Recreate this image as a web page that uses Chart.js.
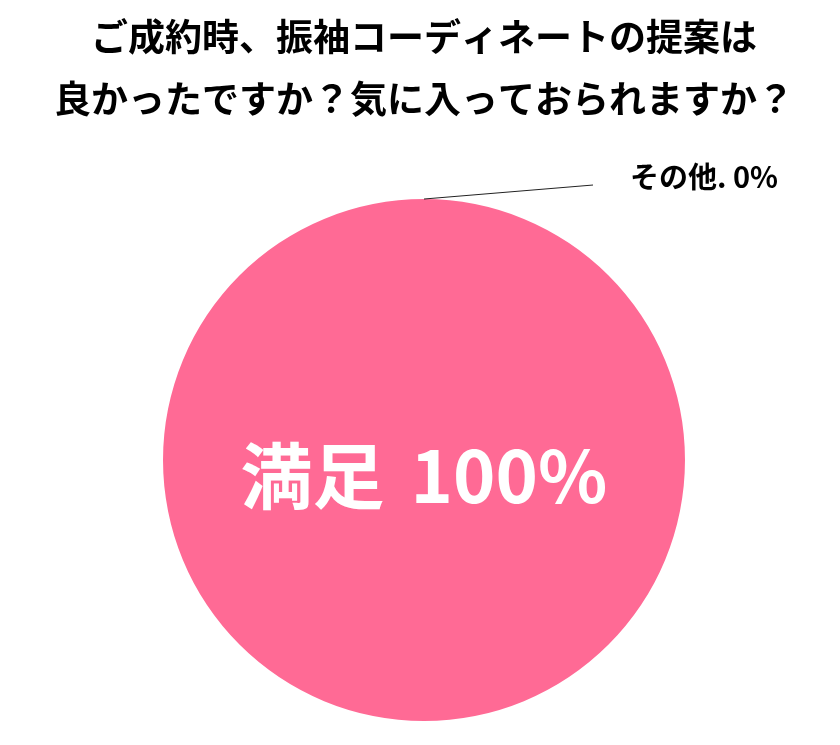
<!DOCTYPE html>
<html lang="ja">
<head>
<meta charset="utf-8">
<script src="https://cdn.jsdelivr.net/npm/chart.js@4"></script>
<style>
    html, body { margin: 0; padding: 0; background: #fff; }
    #wrap { width: 840px; height: 745px; position: relative; }
</style>
</head>
<body>
<div id="wrap"><canvas id="pieChart"></canvas></div>
<script>
const titleLines = ["ご成約時、振袖コーディネートの提案は", "良かったですか？気に入っておられますか？"];
const categories = ["満足", "その他"];
const values = [100, 0];
const colors = ["#FF6A95", "#A6A6A6"];

const jpFont = '"Noto Sans CJK JP", "Noto Sans", sans-serif';

// labels drawn on / beside the slices
const sliceLabels = {
    id: "sliceLabels",
    afterDatasetsDraw(chart) {
        const ctx = chart.ctx;
        const arcs = chart.getDatasetMeta(0).data;
        ctx.save();

        // main slice: label in the middle (name + value with a wider gap)
        const a0 = arcs[0];
        ctx.fillStyle = "#fff";
        ctx.font = "bold 72px " + jpFont;
        ctx.textAlign = "left";
        ctx.textBaseline = "alphabetic";
        const name = categories[0];
        const pct = values[0] + "%";
        const gap = 26;
        const w1 = ctx.measureText(name).width;
        const w2 = ctx.measureText(pct).width;
        const x0 = a0.x - (w1 + gap + w2) / 2;
        ctx.fillText(name, x0, a0.y + 43);
        ctx.fillText(pct, x0 + w1 + gap, a0.y + 43);

        // small slice: leader line and label outside
        const a1 = arcs[1];
        const mid = (a1.startAngle + a1.endAngle) / 2;
        const sx = a1.x + Math.cos(mid) * a1.outerRadius;
        const sy = a1.y + Math.sin(mid) * a1.outerRadius;
        ctx.strokeStyle = "#222";
        ctx.lineWidth = 1;
        ctx.beginPath();
        ctx.moveTo(sx, sy);
        ctx.lineTo(sx + 169, sy - 14);
        ctx.stroke();

        ctx.fillStyle = "#000";
        ctx.font = "bold 29px " + jpFont;
        ctx.textAlign = "left";
        ctx.fillText(categories[1] + ". " + values[1] + "%", sx + 206, sy - 11);
        ctx.restore();
    }
};

new Chart(document.getElementById("pieChart"), {
    type: "pie",
    data: {
        labels: categories,
        datasets: [{
            data: values,
            backgroundColor: colors,
            borderWidth: 0
        }]
    },
    options: {
        responsive: true,
        maintainAspectRatio: false,
        animation: false,
        layout: {
            padding: { top: 0, bottom: 24, left: 48, right: 40 }
        },
        plugins: {
            legend: { display: false },
            tooltip: { enabled: false },
            title: {
                display: true,
                text: titleLines,
                color: "#000",
                font: { family: jpFont, size: 37, weight: "bold", lineHeight: 1.68 },
                padding: { top: 6, bottom: 68.7 }
            }
        }
    },
    plugins: [sliceLabels]
});
</script>
</body>
</html>
